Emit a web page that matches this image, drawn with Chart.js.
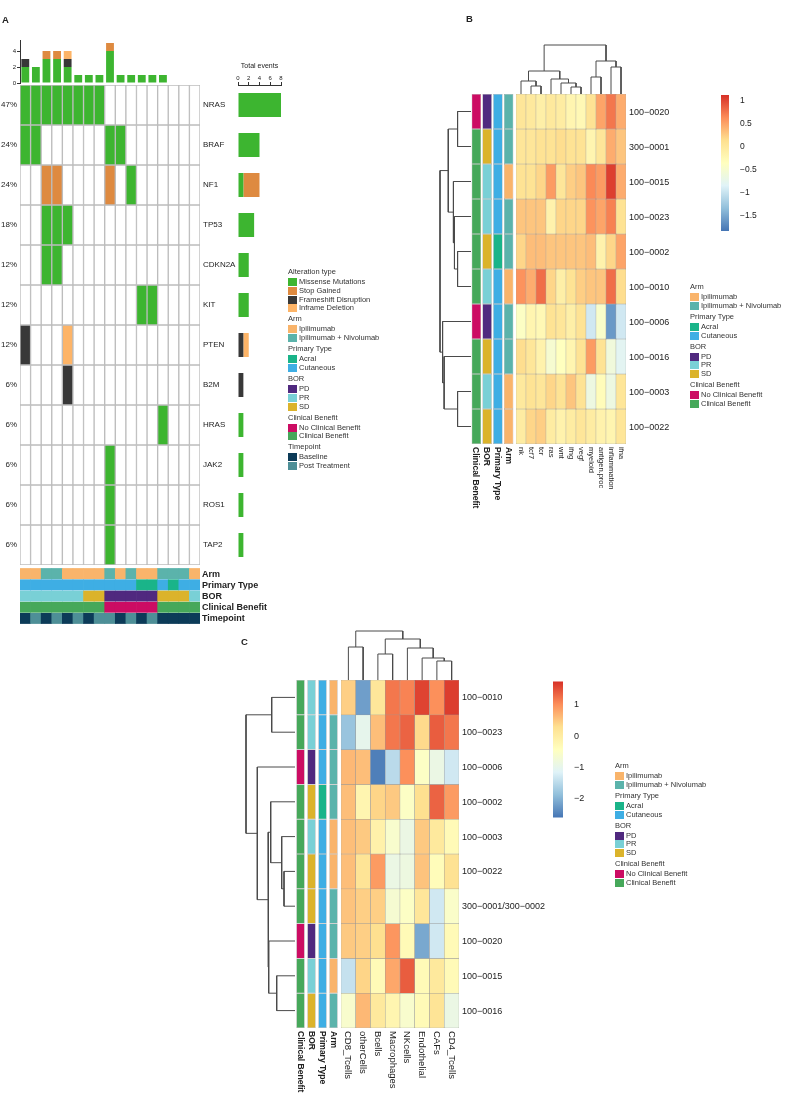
<!DOCTYPE html>
<html lang="en">
<head>
<meta charset="UTF-8">
<title>Oncoprint and signature heatmaps</title>
<script src="https://cdn.jsdelivr.net/npm/chart.js@4.4.1/dist/chart.umd.min.js"></script>
<style>
  body { margin: 0; background: #fff; }
  #page { position: relative; width: 787px; height: 1096px; overflow: hidden; font-family: 'Liberation Sans', Arial, sans-serif; color: #222; }
  #page canvas { position: absolute; }
  .lbl { position: absolute; white-space: nowrap; line-height: 1; will-change: transform; }
  .sw { position: absolute; }
</style>
</head>
<body>
<div id="page"></div>
<script>
// ---------- panel A : oncoprint ----------
const nSamples = 17;
const genes = ['NRAS', 'BRAF', 'NF1', 'TP53', 'CDKN2A', 'KIT', 'PTEN', 'B2M', 'HRAS', 'JAK2', 'ROS1', 'TAP2'];
// one string per gene, one char per sample: M missense, S stop gained, F frameshift, I inframe deletion
const oncoRows = [
  'MMMMMMMM.........',
  'MM......MM.......',
  '..SS....S.M......',
  '..MMM............',
  '..MM.............',
  '...........MM....',
  'F...I............',
  '....F............',
  '.............M...',
  '........M........',
  '........M........',
  '........M........'
];
const altCodes = ['M', 'S', 'F', 'I'];
const altNames = ['Missense Mutations', 'Stop Gained', 'Frameshift Disruption', 'Inframe Deletion'];
const altColors = ['#3db530', '#de8a40', '#383838', '#fdb467'];

const trackNames = ['Arm', 'Primary Type', 'BOR', 'Clinical Benefit', 'Timepoint'];
const armA = ['I', 'I', 'N', 'N', 'I', 'I', 'I', 'I', 'N', 'I', 'N', 'I', 'I', 'N', 'N', 'N', 'I'];
const typeA = ['C', 'C', 'C', 'C', 'C', 'C', 'C', 'C', 'C', 'C', 'C', 'A', 'A', 'C', 'A', 'C', 'C'];
const borA = ['PR', 'PR', 'PR', 'PR', 'PR', 'PR', 'SD', 'SD', 'PD', 'PD', 'PD', 'PD', 'PD', 'SD', 'SD', 'SD', 'PR'];
const benefitA = ['Y', 'Y', 'Y', 'Y', 'Y', 'Y', 'Y', 'Y', 'N', 'N', 'N', 'N', 'N', 'Y', 'Y', 'Y', 'Y'];
const timeA = ['B', 'P', 'B', 'P', 'B', 'P', 'B', 'P', 'P', 'B', 'P', 'B', 'P', 'B', 'B', 'B', 'B'];

const armColors = { I: '#f9b46b', N: '#5bb3ab' };
const typeColors = { A: '#1ab489', C: '#3eaee4' };
const borColors = { PD: '#50297f', PR: '#79d0d6', SD: '#dbb32b' };
const benefitColors = { N: '#cc0c63', Y: '#46a85a' };
const timeColors = { B: '#0c3b58', P: '#4e8f97' };

// ---------- panel B : signature scores ----------
const signatures = ['nk', 'tcf7', 'tcr', 'ras', 'wnt', 'ifng', 'vegf', 'myeloid', 'antigen.proc', 'inflammation', 'ifna'];
const patientsB = ['100-0020', '300-0001', '100-0015', '100-0023', '100-0002', '100-0010', '100-0006', '100-0016', '100-0003', '100-0022'];
const scoresB = [
  [0.05, 0.0, -0.1, 0.0, -0.05, -0.2, -0.25, 0.1, 0.5, 0.75, 0.45],
  [0.05, 0.05, 0.1, 0.1, 0.15, 0.1, 0.1, -0.2, 0.05, 0.45, 0.3],
  [0.1, 0.1, 0.2, 0.55, 0.05, 0.25, 0.3, 0.65, 0.55, 1.05, 0.45],
  [0.3, 0.3, 0.3, -0.15, 0.2, 0.2, 0.2, 0.6, 0.5, 0.7, 0.1],
  [0.2, 0.35, 0.35, 0.3, 0.3, 0.3, 0.3, 0.35, -0.15, 0.2, 0.5],
  [0.6, 0.45, 0.8, 0.2, -0.1, 0.1, 0.25, 0.3, 0.3, 0.8, 0.15],
  [-0.4, -0.2, -0.25, 0.1, 0.05, -0.1, 0.1, -0.95, -0.45, -1.6, -0.95],
  [0.15, 0.05, -0.15, -0.5, -0.35, -0.2, 0.1, 0.55, 0.1, -0.6, -0.8],
  [0.0, 0.1, 0.05, 0.2, 0.1, 0.3, 0.1, -0.65, -0.3, -0.65, 0.05],
  [-0.05, 0.2, 0.25, -0.05, -0.15, -0.05, 0.05, -0.05, -0.15, -0.2, 0.05]
];
const armB = ['N', 'N', 'I', 'N', 'N', 'I', 'N', 'N', 'I', 'I'];
const typeB = ['C', 'C', 'C', 'C', 'A', 'C', 'C', 'C', 'C', 'C'];
const borB = ['PD', 'SD', 'PR', 'PR', 'SD', 'PR', 'PD', 'SD', 'PR', 'SD'];
const benefitB = ['N', 'Y', 'Y', 'Y', 'Y', 'Y', 'N', 'Y', 'Y', 'Y'];
const rangeB = [-1.84, 1.13];
const ticksB = [1, 0.5, 0, -0.5, -1, -1.5];
// trees: leaf index, or [merge height, left, right]
const colTreeB = [49, [23, [13, 0, [8, 1, 2]], [15, 3, [11, 4, [7, 5, 6]]]], [33, [17, 7, 8], [27, 9, 10]]];
const rowTreeB = [30, [22, [13, 0, 1], [17, 2, [16, 3, [13, 4, 5]]]], [27.5, 6, [26, 7, [13, 8, 9]]]];

// ---------- panel C : cell type scores ----------
const cellTypes = ['CD8_Tcells', 'otherCells', 'Bcells', 'Macrophages', 'NKcells', 'Endothelial', 'CAFs', 'CD4_Tcells'];
const patientsC = ['100-0010', '100-0023', '100-0006', '100-0002', '100-0003', '100-0022', '300-0001/300-0002', '100-0020', '100-0015', '100-0016'];
const scoresC = [
  [0.45, -2.2, 0.15, 1.2, 1.1, 1.6, 1.0, 1.65],
  [-1.8, -1.0, 0.6, 1.2, 1.35, 0.35, 1.4, 1.2],
  [0.65, 0.6, -2.5, -1.5, 1.0, -0.5, -0.9, -1.3],
  [0.6, -0.2, 0.4, 0.5, -0.5, 0.3, 1.35, 0.9],
  [0.6, 0.5, -0.1, -0.6, -0.9, 0.5, 0.1, -0.3],
  [0.6, 0.2, 0.9, -0.9, -0.85, 0.55, -0.35, 0.25],
  [0.55, 0.45, 0.45, -0.65, -0.5, 0.15, -1.3, -0.55],
  [0.5, 0.45, 0.3, 0.95, -0.3, -2.1, -1.3, -0.3],
  [-1.4, 0.4, -0.3, 0.8, 1.4, -0.3, 0.1, -0.3],
  [-0.6, 0.65, 0.1, -0.2, -0.6, -0.3, 0.2, -0.9]
];
const armC = ['I', 'N', 'N', 'N', 'I', 'I', 'N', 'N', 'I', 'N'];
const typeC = ['C', 'C', 'C', 'A', 'C', 'C', 'C', 'C', 'C', 'C'];
const borC = ['PR', 'PR', 'PD', 'SD', 'PR', 'SD', 'SD', 'PD', 'PR', 'SD'];
const benefitC = ['Y', 'Y', 'N', 'Y', 'Y', 'Y', 'Y', 'N', 'Y', 'Y'];
const rangeC = [-2.6, 1.75];
const ticksC = [1, 0, -1, -2];
const colTreeC = [49, [33, 0, 1], [41, [26, 2, 3], [32, 4, [22, 5, [19, 6, 7]]]]];
const rowTreeC = [49, [23.3, 0, 1], [37.7, 2, [27, [24.3, 3, [13.3, 4, [11, 5, 6]]], [26.3, 7, [18.3, 8, 9]]]]];

const annotNames = ['Clinical Benefit', 'BOR', 'Primary Type', 'Arm'];
const rdylbu = ['#4575b4', '#91bfdb', '#e0f3f8', '#ffffbf', '#fee090', '#fc8d59', '#d73027'];

//helpers
Chart.defaults.responsive = false;
Chart.defaults.animation = false;
Chart.defaults.events = [];
Chart.defaults.font.family = "'Liberation Sans', Arial, sans-serif";
Chart.defaults.color = '#222';
Chart.defaults.plugins.legend.display = false;
Chart.defaults.plugins.tooltip.enabled = false;

const page = document.getElementById('page');

function makeChart(x, y, w, h, pad, config) {
  const c = document.createElement('canvas');
  c.width = w;
  c.height = h;
  c.style.left = x + 'px';
  c.style.top = y + 'px';
  page.appendChild(c);
  config.options = config.options || {};
  config.options.layout = { padding: pad };
  return new Chart(c, config);
}

// chart whose plot area is exactly box (scales hidden)
function boxChart(box, config) {
  const p = 1;
  return makeChart(box.x - p, box.y - p, box.w + 2 * p, box.h + 2 * p, { left: p, top: p, right: p, bottom: p }, config);
}

function pageX(chart, v) { return chart.canvas.offsetLeft + chart.scales.x.getPixelForValue(v); }
function pageY(chart, v) { return chart.canvas.offsetTop + chart.scales.y.getPixelForValue(v); }

function label(text, x, y, o) {
  o = o || {};
  const d = document.createElement('div');
  d.className = 'lbl';
  d.textContent = text;
  d.style.fontSize = (o.size || 8) + 'px';
  if (o.bold) d.style.fontWeight = 'bold';
  if (o.color) d.style.color = o.color;
  d.style.left = x + 'px';
  d.style.top = y + 'px';
  if (o.vertical) {
    d.style.writingMode = 'vertical-rl';
    d.style.transform = 'translateX(-50%)';
  } else {
    const tx = o.align === 'right' ? '-100%' : o.align === 'center' ? '-50%' : '0';
    d.style.transform = 'translate(' + tx + ', -50%)';
  }
  page.appendChild(d);
  return d;
}

function swatch(x, y, w, h, color) {
  const d = document.createElement('div');
  d.className = 'sw';
  Object.assign(d.style, { left: x + 'px', top: y + 'px', width: w + 'px', height: h + 'px', background: color });
  page.appendChild(d);
}

function legend(x, y, groups) {
  let cy = y;
  groups.forEach((g) => {
    label(g[0], x, cy, { size: 7.5, color: '#333' });
    cy += 10;
    g[1].forEach((it) => {
      swatch(x, cy - 4, 9, 8, it[1]);
      label(it[0], x + 11, cy, { size: 7.5, color: '#333' });
      cy += 8.8;
    });
    cy += 2.2;
  });
}

const minus = (s) => String(s).replace(/-/g, '\u2212');

function hexRgb(h) { return [1, 3, 5].map((i) => parseInt(h.slice(i, i + 2), 16)); }
function heatColor(v, range) {
  let t = (v - range[0]) / (range[1] - range[0]);
  t = Math.min(1, Math.max(0, t)) * 6;
  const i = Math.min(5, Math.floor(t));
  const f = t - i;
  const a = hexRgb(rdylbu[i]), b = hexRgb(rdylbu[i + 1]);
  return 'rgb(' + a.map((c, k) => Math.round(c + (b[k] - c) * f)).join(',') + ')';
}

// grid of cells drawn as floating bars: one dataset per row
function cellGrid(box, nRows, cols, colorAt, opts) {
  opts = opts || {};
  const datasets = [];
  for (let i = 0; i < nRows; i++) {
    datasets.push({
      data: cols.map(() => [i + (opts.inset || 0), i + 1 - (opts.inset || 0)]),
      backgroundColor: cols.map((c, j) => colorAt(i, j)),
      borderColor: opts.border || '#999',
      borderWidth: opts.borderWidth === undefined ? 0.5 : opts.borderWidth,
      borderSkipped: false,
      grouped: false,
      barPercentage: opts.barPct || 1,
      categoryPercentage: 1
    });
  }
  return boxChart(box, {
    type: 'bar',
    data: { labels: cols, datasets },
    options: {
      scales: {
        x: { display: false },
        y: { display: false, min: 0, max: nRows, reverse: true }
      }
    }
  });
}

function treeSegments(tree) {
  const pts = [];
  (function walk(n) {
    if (typeof n === 'number') return { p: n + 0.5, h: 0 };
    const a = walk(n[1]), b = walk(n[2]);
    pts.push([a.p, a.h], [a.p, n[0]], [b.p, n[0]], [b.p, b.h], null);
    return { p: (a.p + b.p) / 2, h: n[0] };
  })(tree);
  return pts;
}

function dendrogram(box, tree, nLeaves, horizontal) {
  const hMax = tree[0];
  const data = treeSegments(tree).map((p) => {
    if (!p) return { x: null, y: null };
    return horizontal ? { x: p[1], y: p[0] } : { x: p[0], y: p[1] };
  });
  const leafAxis = { display: false, min: 0, max: nLeaves };
  const heightAxis = { display: false, min: 0, max: hMax };
  return boxChart(box, {
    type: 'scatter',
    data: { datasets: [{ data, showLine: true, spanGaps: false, pointRadius: 0, borderColor: '#4a4a4a', borderWidth: 1, clip: false }] },
    options: {
      scales: horizontal
        ? { x: Object.assign({ reverse: true }, heightAxis), y: Object.assign({ reverse: true }, leafAxis) }
        : { x: leafAxis, y: heightAxis }
    }
  });
}

function colorBar(x, y, h, w, range, ticks, size) {
  return makeChart(x, y - 7, w + 40, h + 14, { left: 0, top: 7, right: 0, bottom: 7 }, {
    type: 'bar',
    data: {
      labels: [''],
      datasets: [{
        data: [range],
        barPercentage: 1,
        categoryPercentage: 1,
        backgroundColor: (ctx) => {
          const a = ctx.chart.chartArea;
          if (!a) return '#fff';
          const g = ctx.chart.ctx.createLinearGradient(0, a.bottom, 0, a.top);
          rdylbu.forEach((c, k) => g.addColorStop(k / 6, c));
          return g;
        }
      }]
    },
    options: {
      scales: {
        x: { display: false },
        y: {
          position: 'right', min: range[0], max: range[1],
          grid: { display: false }, border: { display: false },
          ticks: { font: { size }, padding: 3, color: '#222', callback: (v) => minus(v) },
          afterBuildTicks: (s) => { s.ticks = ticks.map((v) => ({ value: v })); },
          afterFit: (s) => { s.width = 40; }
        }
      }
    }
  });
}

function annotColor(lists, maps) {
  return (i, j) => maps[j][lists[j][i]];
}

// ================= panel A =================
label('A', 2, 20, { size: 9.5, bold: true });
const samples = Array.from({ length: nSamples }, (_, j) => 'S' + (j + 1));
const altColor = (code) => altColors[altCodes.indexOf(code)];

// top bar : events per sample
const perSample = altCodes.map((code) => samples.map((s, j) => oncoRows.filter((r) => r[j] === code).length));
makeChart(0, 35, 205, 53, { left: 0, top: 5, right: 5, bottom: 5 }, {
  type: 'bar',
  data: {
    labels: samples,
    datasets: altCodes.map((code, k) => ({
      data: perSample[k], backgroundColor: altColors[k], barPercentage: 0.74, categoryPercentage: 1
    }))
  },
  options: {
    scales: {
      x: { display: false, stacked: true },
      y: {
        stacked: true, min: 0, max: 5.375,
        grid: { display: true, drawOnChartArea: false, tickLength: 3, color: '#333' },
        border: { display: true, color: '#333' },
        ticks: { font: { size: 6 }, padding: 1, color: '#222' },
        afterBuildTicks: (s) => { s.ticks = [0, 2, 4].map((v) => ({ value: v })); },
        afterFit: (s) => { s.width = 20; }
      }
    }
  }
});

// main grid
const grid = cellGrid({ x: 20, y: 85, w: 180, h: 480 }, genes.length, samples,
  (i, j) => (oncoRows[i][j] === '.' ? '#ffffff' : altColor(oncoRows[i][j])),
  { border: '#bcbcbc', borderWidth: 1 });

genes.forEach((g, i) => {
  const y = pageY(grid, i + 0.5);
  const n = oncoRows[i].split('').filter((c) => c !== '.').length;
  label(Math.round(100 * n / nSamples) + '%', 17, y, { size: 8, align: 'right' });
  label(g, 203, y, { size: 8 });
});

// annotation tracks
const trackLists = [armA, typeA, borA, benefitA, timeA];
const trackMaps = [armColors, typeColors, borColors, benefitColors, timeColors];
const tracks = cellGrid({ x: 20, y: 568, w: 180, h: 56 }, 5, samples,
  (t, j) => trackMaps[t][trackLists[t][j]], { borderWidth: 0, inset: 0.04 });
trackNames.forEach((t, i) => label(t, 202, pageY(tracks, i + 0.5), { size: 9, bold: true }));

// right bar : events per gene
const perGene = altCodes.map((code) => oncoRows.map((r) => r.split('').filter((c) => c === code).length));
makeChart(232, 60, 58, 506, { left: 6, top: 0, right: 9, bottom: 1 }, {
  type: 'bar',
  data: {
    labels: genes,
    datasets: altCodes.map((code, k) => ({
      data: perGene[k], backgroundColor: altColors[k], barPercentage: 0.6, categoryPercentage: 1
    }))
  },
  options: {
    indexAxis: 'y',
    scales: {
      y: { display: false, stacked: true },
      x: {
        stacked: true, position: 'top', min: 0, max: 8,
        grid: { display: true, drawOnChartArea: false, tickLength: 3, color: '#333' },
        border: { display: true, color: '#333' },
        ticks: { font: { size: 6 }, padding: 0, stepSize: 2, color: '#222', maxRotation: 0 },
        title: { display: true, text: 'Total events', font: { size: 7 }, padding: { top: 2, bottom: 0 }, color: '#222' },
        afterFit: (s) => { s.height = 25; }
      }
    }
  }
});

const clinicalGroups = [
  ['Arm', [['Ipilimumab', armColors.I], ['Ipilimumab + Nivolumab', armColors.N]]],
  ['Primary Type', [['Acral', typeColors.A], ['Cutaneous', typeColors.C]]],
  ['BOR', [['PD', borColors.PD], ['PR', borColors.PR], ['SD', borColors.SD]]],
  ['Clinical Benefit', [['No Clinical Benefit', benefitColors.N], ['Clinical Benefit', benefitColors.Y]]]
];
legend(288, 272, [['Alteration type', altNames.map((n, k) => [n, altColors[k]])]]
  .concat(clinicalGroups)
  .concat([['Timepoint', [['Baseline', timeColors.B], ['Post Treatment', timeColors.P]]]]));

// ================= heatmap panels =================
function heatPanel(cfg) {
  const annLists = [cfg.benefit, cfg.bor, cfg.type, cfg.arm];
  const annMaps = [benefitColors, borColors, typeColors, armColors];
  const heat = cellGrid(cfg.heat, cfg.rows.length, cfg.cols, (i, j) => heatColor(cfg.values[i][j], cfg.range));
  const ann = cellGrid(cfg.ann, cfg.rows.length, annotNames, annotColor(annLists, annMaps), { barPct: cfg.annPct });
  dendrogram({ x: cfg.heat.x, y: cfg.heat.y - cfg.colDendroH, w: cfg.heat.w, h: cfg.colDendroH }, cfg.colTree, cfg.cols.length, false);
  dendrogram({ x: cfg.ann.x - cfg.rowDendroW, y: cfg.heat.y, w: cfg.rowDendroW, h: cfg.heat.h }, cfg.rowTree, cfg.rows.length, true);
  cfg.rows.forEach((r, i) => label(minus(r), cfg.heat.x + cfg.heat.w + 3, pageY(heat, i + 0.5), { size: 9 }));
  const top = cfg.heat.y + cfg.heat.h + 3;
  cfg.cols.forEach((c, j) => label(c, pageX(heat, j), top, { size: cfg.colSize, vertical: true }));
  annotNames.forEach((c, j) => label(c, pageX(ann, j), top, { size: cfg.annSize, bold: true, vertical: true }));
  colorBar(cfg.bar.x, cfg.heat.y, cfg.bar.h, cfg.bar.w, cfg.range, cfg.ticks, cfg.tickSize);
  legend(cfg.legend.x, cfg.legend.y, clinicalGroups);
}

label('B', 466, 19, { size: 9.5, bold: true });
heatPanel({
  rows: patientsB, cols: signatures, values: scoresB, range: rangeB, ticks: ticksB,
  benefit: benefitB, bor: borB, type: typeB, arm: armB,
  heat: { x: 516, y: 94, w: 110, h: 350 }, ann: { x: 471, y: 94, w: 43, h: 350 }, annPct: 0.88,
  colTree: colTreeB, rowTree: rowTreeB, colDendroH: 49, rowDendroW: 31,
  colSize: 7.5, annSize: 8.5, tickSize: 8.5,
  bar: { x: 721, w: 8, h: 138 }, legend: { x: 690, y: 287 }
});

label('C', 241, 642, { size: 9.5, bold: true });
heatPanel({
  rows: patientsC, cols: cellTypes, values: scoresC, range: rangeC, ticks: ticksC,
  benefit: benefitC, bor: borC, type: typeC, arm: armC,
  heat: { x: 341, y: 680, w: 118, h: 348 }, ann: { x: 295, y: 680, w: 44, h: 348 }, annPct: 0.76,
  colTree: colTreeC, rowTree: rowTreeC, colDendroH: 49, rowDendroW: 49,
  colSize: 9.5, annSize: 8.5, tickSize: 9,
  bar: { x: 553, w: 10, h: 139 }, legend: { x: 615, y: 766 }
});
</script>
</body>
</html>
